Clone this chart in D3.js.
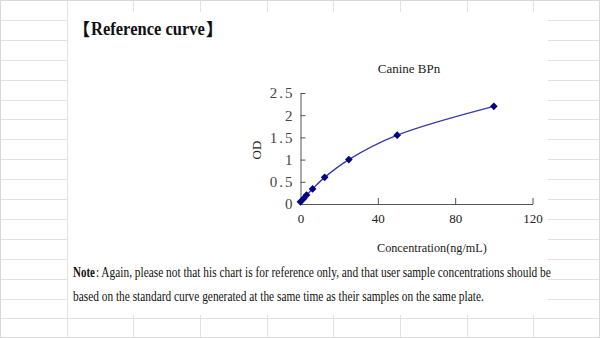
<!DOCTYPE html>
<html>
<head>
<meta charset="utf-8">
<script src="https://cdn.jsdelivr.net/npm/d3@7"></script>
<style>
  html, body { margin: 0; padding: 0; background: #fff; }
  svg { display: block; }
</style>
</head>
<body>
<svg id="chart" width="600" height="338"></svg>
<script>
// Standard curve: concentration (ng/mL) vs optical density
const concentrations = [0, 1.56, 3.12, 6.25, 12.5, 25, 50, 100];
const odValues = [0.05, 0.12, 0.2, 0.34, 0.6, 1.0, 1.55, 2.2];
const xTicks = [0, 40, 80, 120];
const yTicks = [0, 0.5, 1, 1.5, 2, 2.5];

const pageTitle = "Reference curve";
const chartTitle = "Canine BPn";
const xLabel = "Concentration(ng/mL)";
const yLabel = "OD";
const noteHead = "Note";
const noteLines = [
  ": Again, please not that his chart is for reference only, and that user sample concentrations should be",
  "based on the standard curve generated at the same time as their samples on the same plate."
];

const W = 600, H = 338;
const svg = d3.select("#chart");
const serif = "'Liberation Serif', 'Times New Roman', serif";
const cjk = "'Noto Sans CJK SC', 'Noto Sans CJK JP', sans-serif";

// Draws a text line squeezed horizontally so it spans exactly `width` pixels
function fittedText(parent, str, x0, yBase, width, attrs) {
  const t = parent.append("text").attr("x", 0).attr("y", 0);
  Object.entries(attrs).forEach(([k, v]) => t.attr(k, v));
  t.text(str);
  const natural = t.node().getComputedTextLength();
  t.attr("transform", `translate(${x0},${yBase}) scale(${width / natural},1)`);
  return t;
}

// Spreadsheet-style background grid
const gridColor = "#e2e2e2";
const colXs = d3.range(0, 10).map(i => Math.round(i * 66.67) + 0.5);
const rowYs = d3.range(1, 17).map(i => Math.round(i * 19.9) + 0.5);
const grid = svg.append("g");
grid.selectAll("line.col").data(colXs).join("line")
  .attr("x1", d => d).attr("x2", d => d).attr("y1", 0).attr("y2", H)
  .attr("stroke", gridColor).attr("stroke-width", 1);
grid.selectAll("line.row").data(rowYs).join("line")
  .attr("x1", 0).attr("x2", W).attr("y1", d => d).attr("y2", d => d)
  .attr("stroke", gridColor).attr("stroke-width", 1);
svg.append("rect").attr("x", 0.5).attr("y", 0.5).attr("width", W - 1).attr("height", H - 1)
  .attr("fill", "none").attr("stroke", "#d8d8d8");

// White sheet panel holding the figure
svg.append("rect").attr("x", 68).attr("y", 12).attr("width", 480).attr("height", 303).attr("fill", "#fff");

// Heading with heavy lenticular brackets
const heading = svg.append("g").attr("fill", "#111");
heading.append("text").attr("x", 73).attr("y", 36)
  .attr("font-family", cjk).attr("font-weight", 900).attr("font-size", 17).text("【");
fittedText(heading, pageTitle, 91, 35, 114,
  { "font-family": serif, "font-weight": "bold", "font-size": 19 });
heading.append("text").attr("x", 206).attr("y", 36)
  .attr("font-family", cjk).attr("font-weight", 900).attr("font-size", 17).text("】");

// Scales
const x = d3.scaleLinear().domain([0, 120]).range([300.5, 532.5]);
const y = d3.scaleLinear().domain([0, 2.5]).range([204, 93]);

// Axes (ticks pointing inward)
const xAxis = d3.axisBottom(x).tickValues(xTicks).tickSizeInner(-6).tickSizeOuter(0).tickPadding(10);
const yAxis = d3.axisLeft(y).tickValues(yTicks).tickSizeInner(-5).tickSizeOuter(0).tickPadding(8)
  .tickFormat(d => d3.format("")(d));

const gx = svg.append("g").attr("transform", `translate(0,${y(0)})`).call(xAxis);
gx.select(".domain").attr("stroke", "#555");
gx.selectAll(".tick line").attr("stroke", "#555");
gx.selectAll(".tick text").attr("font-family", serif).attr("font-size", 13).attr("fill", "#222");

const gy = svg.append("g").attr("transform", `translate(${x(0)},0)`).call(yAxis);
gy.select(".domain").attr("stroke", "#555");
gy.selectAll(".tick line").attr("stroke", "#555");
gy.selectAll(".tick text").attr("font-family", serif).attr("font-size", 15)
  .attr("fill", "#444").attr("letter-spacing", 2).attr("dx", 2);

// Curve
const line = d3.line()
  .x((d, i) => x(concentrations[i]))
  .y(d => y(d))
  .curve(d3.curveCatmullRom.alpha(0.5));
svg.append("path").datum(odValues)
  .attr("d", line).attr("fill", "none")
  .attr("stroke", "#3a3aaa").attr("stroke-width", 1.4);

// Diamond markers
svg.append("g").selectAll("path").data(odValues).join("path")
  .attr("transform", (d, i) => `translate(${x(concentrations[i])},${y(d)})`)
  .attr("d", d3.symbol().type(d3.symbolDiamond2).size(38))
  .attr("fill", "#00008b");

// Chart and axis titles
svg.append("text").attr("x", 409).attr("y", 73).attr("text-anchor", "middle")
  .attr("font-family", serif).attr("font-size", 13).attr("fill", "#222")
  .text(chartTitle);
fittedText(svg, xLabel, 377, 252, 110,
  { "font-family": serif, "font-size": 13.5, "fill": "#222" });
svg.append("text").attr("transform", "translate(261,150) rotate(-90)").attr("text-anchor", "middle")
  .attr("font-family", serif).attr("font-size", 13).attr("fill", "#222")
  .text(yLabel);

// Footnote
const noteStyle = { "font-family": serif, "font-size": 14, "fill": "#111" };
fittedText(svg, noteHead, 73, 277, 22, Object.assign({ "font-weight": "bold" }, noteStyle));
fittedText(svg, noteLines[0], 96, 277, 455, noteStyle);
fittedText(svg, noteLines[1], 73, 301, 411, noteStyle);
</script>
</body>
</html>
